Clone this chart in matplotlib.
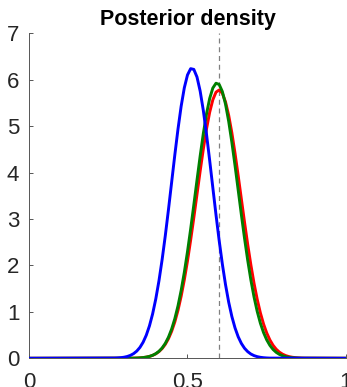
import numpy as np
import matplotlib
matplotlib.use("Agg")
import matplotlib.pyplot as plt

plt.rcParams['font.family'] = ['Liberation Sans', 'DejaVu Sans']

# x grids (in theta), densities
blue_x = np.round(np.arange(0.27, 0.7601, 0.01), 2)
blue_y = [0.0044, 0.0078, 0.0137, 0.0233, 0.0389, 0.0632, 0.1002, 0.1552, 0.2344, 0.3457,
          0.4974, 0.698, 0.956, 1.279, 1.669, 2.126, 2.641, 3.203, 3.791, 4.378,
          4.934, 5.428, 5.826, 6.102, 6.238, 6.222, 6.058, 5.755, 5.336, 4.828,
          4.262, 3.673, 3.088, 2.534, 2.029, 1.586, 1.209, 0.900, 0.654, 0.463,
          0.320, 0.216, 0.143, 0.0916, 0.0575, 0.0352, 0.0210, 0.0122, 0.0070, 0.0039]

green_x = np.round(np.arange(0.33, 0.8601, 0.01), 2)
green_y = [0.0030, 0.0053, 0.0091, 0.0153, 0.0253, 0.0408, 0.0644, 0.0994, 0.1503, 0.2222,
           0.3213, 0.4542, 0.6288, 0.851, 1.127, 1.461, 1.851, 2.295, 2.784, 3.304,
           3.836, 4.357, 4.841, 5.262, 5.596, 5.821, 5.924, 5.898, 5.745, 5.474,
           5.103, 4.653, 4.152, 3.623, 3.094, 2.584, 2.112, 1.688, 1.320, 1.010,
           0.756, 0.554, 0.397, 0.278, 0.190, 0.1277, 0.0838, 0.0538, 0.0338, 0.0208,
           0.0125, 0.0073, 0.0042, 0.0024]

red_x = np.round(np.arange(0.33, 0.8701, 0.01), 2)
red_y = [0.0032, 0.0056, 0.0094, 0.0156, 0.0254, 0.0403, 0.0628, 0.0959, 0.1432, 0.2096,
         0.3004, 0.4221, 0.5803, 0.782, 1.032, 1.335, 1.690, 2.095, 2.546, 3.029,
         3.531, 4.032, 4.508, 4.938, 5.298, 5.568, 5.732, 5.779, 5.708, 5.522,
         5.233, 4.857, 4.416, 3.932, 3.430, 2.930, 2.452, 2.011, 1.614, 1.270,
         0.978, 0.738, 0.546, 0.395, 0.280, 0.1946, 0.1323, 0.0883, 0.0576, 0.0368,
         0.0231, 0.0141, 0.0085, 0.0050, 0.0029]

true_value = 0.6
x_range = [0, 1]
y_range = [0, 7]
x_ticks = [0, 0.5, 1]
x_ticklabels = ['0', '0.5', '1']
y_ticks = [0, 1, 2, 3, 4, 5, 6, 7]
title = 'Posterior density'


def full(xs, ys):
    return np.concatenate([[x_range[0]], xs, [x_range[1]]]), np.concatenate([[0], ys, [0]])


fig = plt.figure(figsize=(3.47, 3.87), dpi=100)
ax = fig.add_axes([0.0836, 0.0742, 0.9134, 0.8398])

ax.plot([true_value, true_value], y_range, color='#808080', lw=0.9,
        linestyle=(0, (4, 3)), zorder=1)
ax.plot(*full(red_x, red_y), color='#FF0000', lw=2.1, zorder=2)
ax.plot(*full(green_x, green_y), color='#008000', lw=2.1, zorder=3)
ax.plot(*full(blue_x, blue_y), color='#0000FF', lw=2.1, zorder=4)

ax.set_xlim(x_range)
ax.set_ylim(y_range)
ax.set_xticks(x_ticks)
ax.set_xticklabels(x_ticklabels)
ax.set_yticks(y_ticks)
for s in ['top', 'right']:
    ax.spines[s].set_visible(False)
for s in ['left', 'bottom']:
    ax.spines[s].set_color('#555555')
    ax.spines[s].set_linewidth(0.7)
ax.tick_params(direction='in', length=3, width=0.7, color='#555555',
               labelsize=16, labelcolor='#262626')
ax.tick_params(axis='x', pad=10)
ax.tick_params(axis='y', pad=7)
ax.set_title(title, fontsize=15.5, fontweight='bold', pad=6)

fig.savefig('out.png', dpi=100)
